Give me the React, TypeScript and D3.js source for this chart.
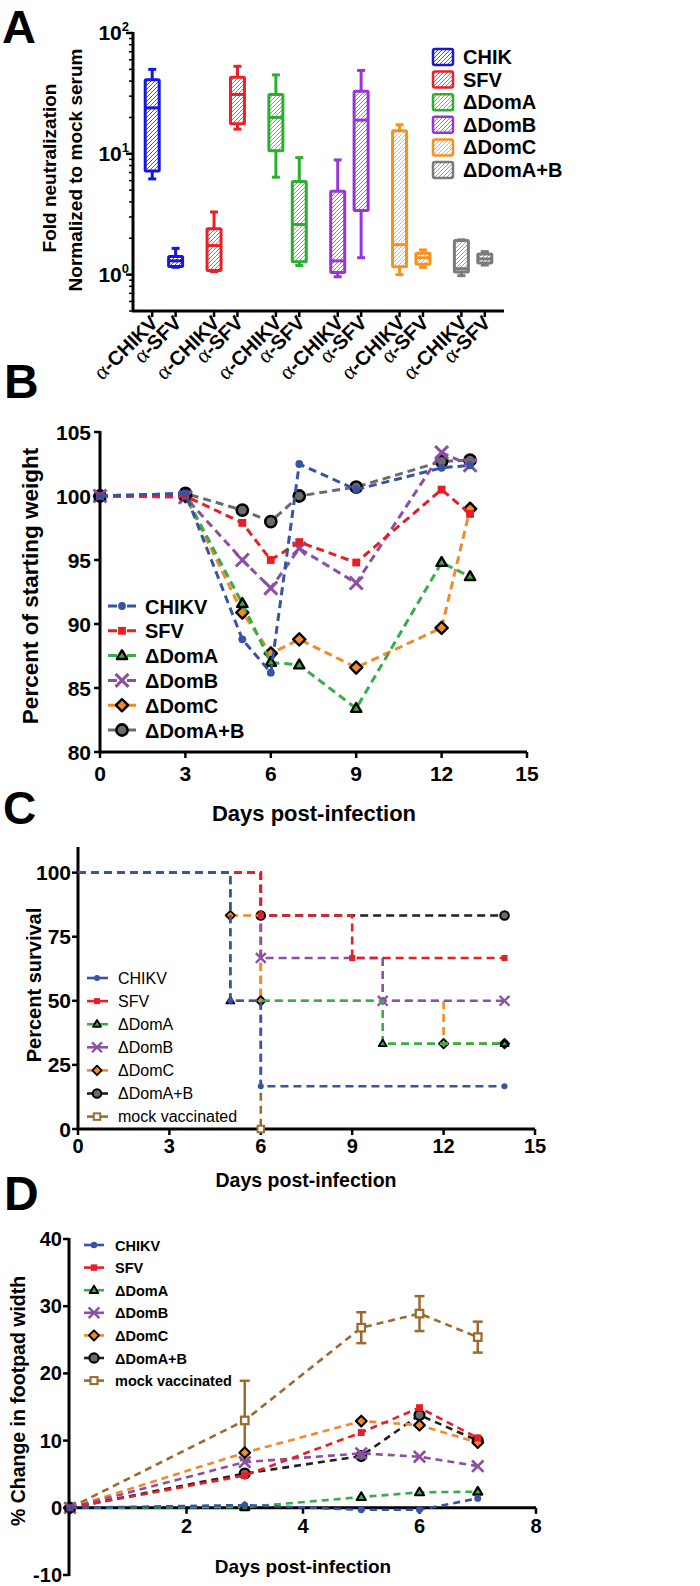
import * as d3 from "d3";

const FONT = "'Liberation Sans', Arial, Helvetica, sans-serif";
const SERIF = "'Liberation Serif', 'Times New Roman', serif";

// ---------- A: neutralization box plots ----------
const aViruses = ["CHIK", "SFV", "ΔDomA", "ΔDomB", "ΔDomC", "ΔDomA+B"];
const aSera = ["CHIKV", "SFV"];
// one entry per box: virus by virus, α-CHIKV then α-SFV
const aMin = [6.2, 1.15, 1.06, 16, 6.4, 1.19, 0.96, 1.38, 1.0, 1.15, 0.98, 1.2];
const aQ1 = [7.2, 1.17, 1.08, 17.7, 10.6, 1.28, 1.04, 3.4, 1.16, 1.22, 1.05, 1.25];
const aMedian = [24, 1.3, 1.74, 31, 20, 2.6, 1.3, 19, 1.77, 1.38, 1.12, 1.35];
const aQ3 = [41, 1.41, 2.4, 43, 31, 5.9, 4.9, 33, 15.5, 1.5, 1.92, 1.48];
const aMax = [50, 1.65, 3.3, 53, 45, 9.3, 8.9, 49, 17.4, 1.6, 1.94, 1.55];
const aColors = ["#1616e4", "#ee1f26", "#27b12d", "#9b33dc", "#f7921e", "#7a7a7a"];
const aMajor = [1, 10, 100];

// ---------- shared series ----------
const seriesNames = ["CHIKV", "SFV", "ΔDomA", "ΔDomB", "ΔDomC", "ΔDomA+B", "mock vaccinated"];
const seriesColors = ["#3953a4", "#e61f27", "#39ad48", "#8b4fa3", "#f28a2a", "#6b6b6b", "#9a6a2f"];
const seriesMarkers = ["dot", "square", "tri", "x", "diamond", "bigdot", "opensq"];

// ---------- B: weight ----------
const weightDays = [0, 3, 5, 6, 7, 9, 12, 13];
const weightCHIKV = [100, 100.2, 88.8, 86.2, 102.5, 100.5, 102.2, 102.4];
const weightSFV = [100, 100, 97.9, 95.0, 96.4, 94.8, 100.5, 98.6];
const weightDomA = [100, 100, 91.6, 87.0, 86.8, 83.4, 94.8, 93.7];
const weightDomB = [100, 99.9, 95.0, 92.8, 95.9, 93.2, 103.4, 102.4];
const weightDomC = [100, 100, 90.9, 87.7, 88.8, 86.6, 89.7, 99.0];
const weightDomAB = [100, 100.2, 98.9, 98.0, 100.0, 100.7, 102.7, 102.8];
const weightSeries = [weightCHIKV, weightSFV, weightDomA, weightDomB, weightDomC, weightDomAB];
const weightXTicks = [0, 3, 6, 9, 12, 15];
const weightYTicks = [80, 85, 90, 95, 100, 105];

// ---------- C: survival ----------
const survCHIKVDays = [0, 5, 6, 14];
const survCHIKV = [100, 50, 16.7, 16.7];
const survSFVDays = [0, 6, 9, 14];
const survSFV = [100, 83.3, 66.7, 66.7];
const survDomADays = [0, 5, 10, 14];
const survDomA = [100, 50, 33.3, 33.3];
const survDomBDays = [0, 6, 10, 14];
const survDomB = [100, 66.7, 50, 50];
const survDomCDays = [0, 5, 6, 12, 14];
const survDomC = [100, 83.3, 50, 33.3, 33.3];
const survDomABDays = [0, 6, 14];
const survDomAB = [100, 83.3, 83.3];
const survMockDays = [0, 6];
const survMock = [100, 0];
const survDays = [survCHIKVDays, survSFVDays, survDomADays, survDomBDays, survDomCDays, survDomABDays, survMockDays];
const survValues = [survCHIKV, survSFV, survDomA, survDomB, survDomC, survDomAB, survMock];
const survXTicks = [0, 3, 6, 9, 12, 15];
const survYTicks = [0, 25, 50, 75, 100];

// ---------- D: footpad ----------
const footDays = [0, 3, 5, 6, 7];
const footCHIKV = [0, 0.4, -0.3, -0.3, 1.4];
const footSFV = [0, 4.8, 11.2, 14.9, 10.4];
const footDomA = [0, 0.1, 1.6, 2.3, 2.4];
const footDomB = [0, 6.8, 8.1, 7.6, 6.2];
const footDomC = [0, 8.2, 12.9, 12.3, 9.7];
const footDomAB = [0, 5.1, 7.7, 13.8, 10.0];
const footMock = [0, 13.0, 26.8, 28.9, 25.4];
const footMockErr = [0, 5.9, 2.3, 2.6, 2.3];
const footSeries = [footCHIKV, footSFV, footDomA, footDomB, footDomC, footDomAB, footMock];
const footXTicks = [2, 4, 6, 8];
const footYTicks = [-10, 0, 10, 20, 30, 40];

function Marker({ kind, x, y, s, color }: { kind: string; x: number; y: number; s: number; color: string }) {
  if (kind === "dot") return <circle cx={x} cy={y} r={s * 0.23} fill={color} />;
  if (kind === "square") {
    const h = s * 0.23;
    return <rect x={x - h} y={y - h} width={2 * h} height={2 * h} fill={color} />;
  }
  if (kind === "tri") {
    const r = s * 0.32;
    return (
      <path
        d={`M${x},${y - r}L${x + r * 0.95},${y + r * 0.62}L${x - r * 0.95},${y + r * 0.62}Z`}
        fill={color} stroke="#000" strokeWidth={s * 0.14} strokeLinejoin="round"
      />
    );
  }
  if (kind === "x") {
    const r = s * 0.38;
    return (
      <path d={`M${x - r},${y - r}L${x + r},${y + r}M${x - r},${y + r}L${x + r},${y - r}`}
        stroke={color} strokeWidth={s * 0.18} fill="none" />
    );
  }
  if (kind === "diamond") {
    const r = s * 0.36;
    return (
      <path d={`M${x},${y - r}L${x + r},${y}L${x},${y + r}L${x - r},${y}Z`}
        fill={color} stroke="#000" strokeWidth={s * 0.14} strokeLinejoin="round" />
    );
  }
  if (kind === "bigdot") return <circle cx={x} cy={y} r={s * 0.33} fill={color} stroke="#000" strokeWidth={s * 0.15} />;
  const h = s * 0.25;
  return <rect x={x - h} y={y - h} width={2 * h} height={2 * h} fill="#fff" stroke={color} strokeWidth={s * 0.15} />;
}

function PanelA() {
  const y = d3.scaleLog().domain([0.5, 100]).range([311, 33]);
  const xg = d3.scaleBand().domain(aViruses).range([133, 504]);
  const xs = d3.scalePoint().domain(aSera).range([-11.7, 11.7]);
  const minor = y.ticks().filter(t => !aMajor.includes(t));
  const boxes = aViruses.flatMap((v, gi) =>
    aSera.map((s, si) => {
      const i = gi * 2 + si;
      return {
        key: v + s, serum: s, gi,
        cx: (xg(v) as number) + xg.bandwidth() / 2 + (xs(s) as number),
        lo: aMin[i], q1: aQ1[i], med: aMedian[i], q3: aQ3[i], hi: aMax[i],
      };
    })
  );
  const hw = 7;
  return (
    <g>
      <defs>
        {aColors.map((c, i) => (
          <pattern key={i} id={`hatch-${i}`} patternUnits="userSpaceOnUse" width={4} height={4}>
            <path d="M-1,1 l2,-2 M0,4 l4,-4 M3,5 l2,-2" stroke={c} strokeWidth={1} opacity={0.75} />
          </pattern>
        ))}
      </defs>
      <text x={2} y={43} fontSize={47} fontWeight="bold">A</text>

      {/* axes */}
      <line x1={133} x2={133} y1={32} y2={312} stroke="#000" strokeWidth={3} />
      <line x1={132} x2={504} y1={311} y2={311} stroke="#000" strokeWidth={3} />
      {aMajor.map((t, i) => (
        <g key={t}>
          <line x1={126} x2={133} y1={y(t)} y2={y(t)} stroke="#000" strokeWidth={2.5} />
          <text x={129} y={y(t) + 7} textAnchor="end" fontSize={21} fontWeight="bold">
            10<tspan dy={-9} fontSize={13}>{i}</tspan>
          </text>
        </g>
      ))}
      {minor.map(t => (
        <line key={t} x1={129} x2={133} y1={y(t)} y2={y(t)} stroke="#000" strokeWidth={1.5} />
      ))}
      {boxes.map(b => (
        <g key={b.key}>
          <line x1={b.cx} x2={b.cx} y1={311} y2={317} stroke="#000" strokeWidth={2.5} />
          <text transform={`translate(${b.cx + 7},${324}) rotate(-45)`} textAnchor="end" fontSize={20} fontWeight="bold">
            <tspan fontFamily={SERIF} fontWeight="normal" fontSize={22}>α</tspan>-{b.serum}
          </text>
        </g>
      ))}

      <text transform="translate(56,168) rotate(-90)" textAnchor="middle" fontSize={19} fontWeight="bold">Fold neutralization</text>
      <text transform="translate(82,170) rotate(-90)" textAnchor="middle" fontSize={19} fontWeight="bold">Normalized to mock serum</text>

      {/* boxes */}
      {boxes.map(b => {
        const c = aColors[b.gi];
        return (
          <g key={b.key} stroke={c} strokeWidth={3} fill="none">
            <line x1={b.cx} x2={b.cx} y1={y(b.q3)} y2={y(b.hi)} />
            <line x1={b.cx} x2={b.cx} y1={y(b.q1)} y2={y(b.lo)} />
            <line x1={b.cx - 4} x2={b.cx + 4} y1={y(b.hi)} y2={y(b.hi)} />
            <line x1={b.cx - 4} x2={b.cx + 4} y1={y(b.lo)} y2={y(b.lo)} />
            <rect x={b.cx - hw} y={y(b.q3)} width={2 * hw} height={Math.max(1, y(b.q1) - y(b.q3))}
              fill={`url(#hatch-${b.gi})`} rx={1} />
            <line x1={b.cx - hw} x2={b.cx + hw} y1={y(b.med)} y2={y(b.med)} />
          </g>
        );
      })}

      {/* legend */}
      {aViruses.map((v, i) => {
        const ry = 57 + i * 22.6;
        return (
          <g key={v}>
            <rect x={433} y={ry - 8} width={20} height={16} rx={2} fill={`url(#hatch-${i})`} stroke={aColors[i]} strokeWidth={2.5} />
            <text x={463} y={ry + 7} fontSize={20} fontWeight="bold">{v}</text>
          </g>
        );
      })}
    </g>
  );
}

function PanelB() {
  const x = d3.scaleLinear().domain([0, 15]).range([100, 527]);
  const y = d3.scaleLinear().domain([80, 105]).range([752, 432]);
  const line = d3.line<number>().x((_, i) => x(weightDays[i])).y(v => y(v));
  const lineColors = seriesColors.slice(0, 6);
  const order = [5, 4, 3, 2, 1, 0];
  return (
    <g>
      <text x={4} y={398} fontSize={48} fontWeight="bold">B</text>
      <line x1={100} x2={100} y1={431} y2={753} stroke="#000" strokeWidth={3} />
      <line x1={99} x2={527} y1={752} y2={752} stroke="#000" strokeWidth={3} />
      {weightYTicks.map(t => (
        <g key={t}>
          <line x1={94} x2={100} y1={y(t)} y2={y(t)} stroke="#000" strokeWidth={2.5} />
          <text x={91} y={y(t) + 7.5} textAnchor="end" fontSize={21} fontWeight="bold">{t}</text>
        </g>
      ))}
      {weightXTicks.map(t => (
        <g key={t}>
          <line x1={x(t)} x2={x(t)} y1={752} y2={758} stroke="#000" strokeWidth={2.5} />
          <text x={x(t)} y={781} textAnchor="middle" fontSize={21} fontWeight="bold">{t}</text>
        </g>
      ))}
      <text x={314} y={821} textAnchor="middle" fontSize={22} fontWeight="bold">Days post-infection</text>
      <text transform="translate(38,586) rotate(-90)" textAnchor="middle" fontSize={22.5} fontWeight="bold">Percent of starting weight</text>

      {order.map(si => (
        <g key={si}>
          <path d={line(weightSeries[si]) as string} fill="none" stroke={lineColors[si]} strokeWidth={3} strokeDasharray="8,5" />
          {weightSeries[si].map((v, i) => (
            <Marker key={i} kind={seriesMarkers[si]} x={x(weightDays[i])} y={y(v)} s={17} color={seriesColors[si]} />
          ))}
        </g>
      ))}

      {seriesNames.slice(0, 6).map((n, i) => {
        const ry = 606 + i * 24.8;
        return (
          <g key={n}>
            <line x1={108} x2={137} y1={ry} y2={ry} stroke={lineColors[i]} strokeWidth={3} strokeDasharray="9,10" />
            <Marker kind={seriesMarkers[i]} x={122} y={ry} s={17} color={seriesColors[i]} />
            <text x={145} y={ry + 7.5} fontSize={20} fontWeight="bold">{n}</text>
          </g>
        );
      })}
    </g>
  );
}

function PanelC() {
  const x = d3.scaleLinear().domain([0, 15]).range([78, 535]);
  const y = d3.scaleLinear().domain([0, 110]).range([1129, 847]);
  const lineColors = ["#3953a4", "#e61f27", "#39ad48", "#8b4fa3", "#f28a2a", "#231f20", "#9a6a2f"];
  const order = [6, 5, 4, 3, 2, 1, 0];
  return (
    <g>
      <text x={3} y={824} fontSize={46} fontWeight="bold">C</text>
      <line x1={78} x2={78} y1={847} y2={1130} stroke="#000" strokeWidth={3} />
      <line x1={77} x2={535} y1={1129} y2={1129} stroke="#000" strokeWidth={3} />
      {survYTicks.map(t => (
        <g key={t}>
          <line x1={72} x2={78} y1={y(t)} y2={y(t)} stroke="#000" strokeWidth={2.5} />
          <text x={71} y={y(t) + 7.5} textAnchor="end" fontSize={21} fontWeight="bold">{t}</text>
        </g>
      ))}
      {survXTicks.map(t => (
        <g key={t}>
          <line x1={x(t)} x2={x(t)} y1={1129} y2={1135} stroke="#000" strokeWidth={2.5} />
          <text x={x(t)} y={1153} textAnchor="middle" fontSize={20} fontWeight="bold">{t}</text>
        </g>
      ))}
      <text x={306} y={1187} textAnchor="middle" fontSize={19.5} fontWeight="bold">Days post-infection</text>
      <text transform="translate(41,985) rotate(-90)" textAnchor="middle" fontSize={20} fontWeight="bold">Percent survival</text>

      {order.map(si => {
        const days = survDays[si];
        const vals = survValues[si];
        const step = d3.line<number>().curve(d3.curveStepAfter).x((_, i) => x(days[i])).y(v => y(v));
        return (
          <g key={si}>
            <path d={step(vals) as string} fill="none" stroke={lineColors[si]} strokeWidth={2.6} strokeDasharray="8,5" />
            {vals.map((v, i) => i === 0 ? null : (
              <Marker key={i} kind={seriesMarkers[si]} x={x(days[i])} y={y(v)} s={13} color={seriesColors[si]} />
            ))}
          </g>
        );
      })}

      {seriesNames.map((n, i) => {
        const ry = 978 + i * 23.1;
        return (
          <g key={n}>
            <line x1={87} x2={108} y1={ry} y2={ry} stroke={lineColors[i]} strokeWidth={2.6} />
            <Marker kind={seriesMarkers[i]} x={97} y={ry} s={13} color={seriesColors[i]} />
            <text x={118} y={ry + 5.5} fontSize={16}>{n}</text>
          </g>
        );
      })}
    </g>
  );
}

function PanelD() {
  const x = d3.scaleLinear().domain([0, 8]).range([70, 536]);
  const y = d3.scaleLinear().domain([-10, 40]).range([1575, 1239]);
  const lineColors = ["#3953a4", "#e61f27", "#39ad48", "#8b4fa3", "#f28a2a", "#231f20", "#9a6a2f"];
  const line = d3.line<number>().x((_, i) => x(footDays[i])).y(v => y(v));
  const order = [6, 5, 4, 3, 2, 1, 0];
  return (
    <g>
      <text x={4} y={1210} fontSize={48} fontWeight="bold">D</text>
      <line x1={69} x2={69} y1={1238} y2={1576} stroke="#000" strokeWidth={3} />
      <line x1={69} x2={536} y1={y(0)} y2={y(0)} stroke="#000" strokeWidth={3} />
      {footYTicks.map(t => (
        <g key={t}>
          <line x1={63} x2={69} y1={y(t)} y2={y(t)} stroke="#000" strokeWidth={2.5} />
          <text x={62} y={y(t) + 7} textAnchor="end" fontSize={20} fontWeight="bold">{t}</text>
        </g>
      ))}
      {footXTicks.map(t => (
        <g key={t}>
          <line x1={x(t)} x2={x(t)} y1={y(0)} y2={y(0) + 6} stroke="#000" strokeWidth={2.5} />
          <text x={x(t)} y={1533} textAnchor="middle" fontSize={20} fontWeight="bold">{t}</text>
        </g>
      ))}
      <text x={303} y={1573} textAnchor="middle" fontSize={19} fontWeight="bold">Days post-infection</text>
      <text transform="translate(25,1401) rotate(-90)" textAnchor="middle" fontSize={19.5} fontWeight="bold">% Change in footpad width</text>

      {/* mock error bars */}
      {footMock.map((v, i) => footMockErr[i] === 0 ? null : (
        <g key={i} stroke={seriesColors[6]} strokeWidth={2.5}>
          <line x1={x(footDays[i])} x2={x(footDays[i])} y1={y(v - footMockErr[i])} y2={y(v + footMockErr[i])} />
          <line x1={x(footDays[i]) - 5} x2={x(footDays[i]) + 5} y1={y(v + footMockErr[i])} y2={y(v + footMockErr[i])} />
          <line x1={x(footDays[i]) - 5} x2={x(footDays[i]) + 5} y1={y(v - footMockErr[i])} y2={y(v - footMockErr[i])} />
        </g>
      ))}

      {order.map(si => (
        <g key={si}>
          <path d={line(footSeries[si]) as string} fill="none" stroke={lineColors[si]} strokeWidth={2.6} strokeDasharray="7,5" />
          {footSeries[si].map((v, i) => (
            <Marker key={i} kind={seriesMarkers[si]} x={x(footDays[i])} y={y(v)} s={15} color={seriesColors[si]} />
          ))}
        </g>
      ))}

      {seriesNames.map((n, i) => {
        const ry = 1245 + i * 22.6;
        return (
          <g key={n}>
            <line x1={84} x2={104} y1={ry} y2={ry} stroke={lineColors[i]} strokeWidth={2.6} />
            <Marker kind={seriesMarkers[i]} x={94} y={ry} s={14} color={seriesColors[i]} />
            <text x={115} y={ry + 5.5} fontSize={14.5} fontWeight="bold">{n}</text>
          </g>
        );
      })}
    </g>
  );
}

export default function App() {
  return (
    <svg width={700} height={1586} fontFamily={FONT}
      style={{ position: "absolute", left: 0, top: 0, background: "#fff" }}>
      <rect width={700} height={1586} fill="#fff" />
      <PanelA />
      <PanelB />
      <PanelC />
      <PanelD />
    </svg>
  );
}
